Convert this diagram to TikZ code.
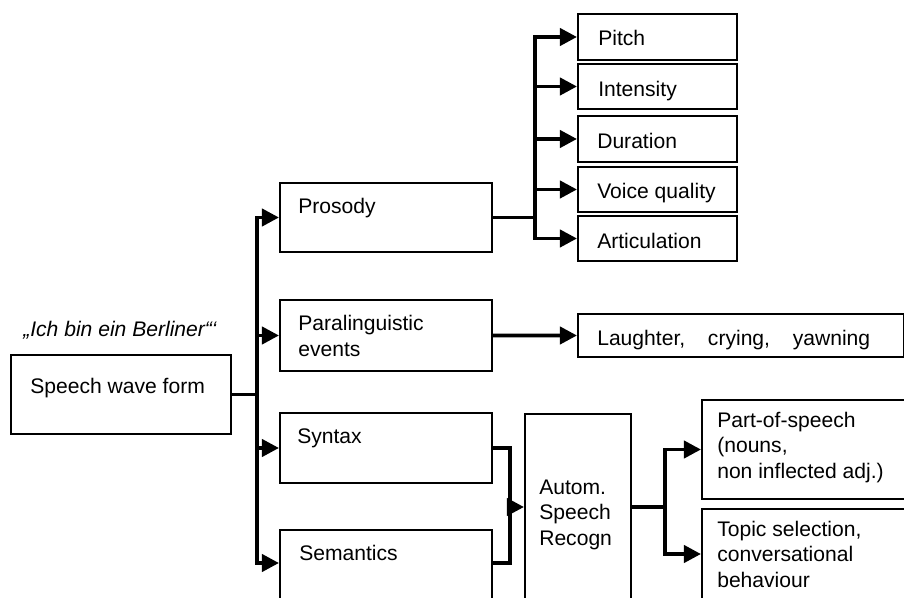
\documentclass[tikz,border=0pt]{standalone}
\usepackage{fontspec}
\setmainfont{Liberation Sans}
\usetikzlibrary{arrows.meta,calc}
\newcommand{\diagfont}{\fontsize{15pt}{17.8pt}\selectfont}
\begin{document}
\begin{tikzpicture}[x=0.025cm, y=-0.025cm,
        box/.style={draw, line width=1.4pt, anchor=north west, inner sep=0pt},
        txt/.style={anchor=base west, align=left, inner sep=0pt, font=\diagfont},
        link/.style={line width=2.8pt},
        arrow/.style={line width=2.8pt, -{Triangle[length=0.43cm, width=0.43cm]}}]
            \clip (0, 0) rectangle (904, 598);

            \node[box, minimum width=5.5cm, minimum height=1.975cm] (speech) at (10, 354) {};
            \node[txt] (speech-t) at (30, 393) {Speech wave form};
            \node[txt] (quote) at (23, 336) {\itshape „Ich bin ein Berliner“‘};

            \node[box, minimum width=5.3cm, minimum height=1.725cm] (prosody) at (279, 182) {};
            \node[box, minimum width=5.3cm, minimum height=1.775cm] (para) at (279, 299) {};
            \node[box, minimum width=5.3cm, minimum height=1.75cm] (syntax) at (279, 412) {};
            \node[box, minimum width=5.3cm, minimum height=3cm] (semantics) at (279, 529) {};
            \node[txt] (prosody-t) at (298, 213) {Prosody};
            \node[txt] (para-t) at (298, 356) {Paralinguistic\\events};
            \node[txt] (syntax-t) at (297, 443) {Syntax};
            \node[txt] (semantics-t) at (299, 560) {Semantics};

            \node[box, minimum width=3.975cm, minimum height=1.15cm] (pitch) at (577, 13) {};
            \node[box, minimum width=3.975cm, minimum height=1.125cm] (intensity) at (577, 63) {};
            \node[box, minimum width=3.975cm, minimum height=1.15cm] (duration) at (577, 115) {};
            \node[box, minimum width=3.975cm, minimum height=1.125cm] (voice) at (577, 166) {};
            \node[box, minimum width=3.975cm, minimum height=1.125cm] (artic) at (577, 215) {};
            \node[txt] (pitch-t) at (598, 46) {Pitch};
            \node[txt] (intensity-t) at (598, 96) {Intensity};
            \node[txt] (duration-t) at (597, 148) {Duration};
            \node[txt] (voice-t) at (597, 198) {Voice quality};
            \node[txt] (artic-t) at (597, 248) {Articulation};

            \node[box, minimum width=8.15cm, minimum height=1.075cm] (laughter) at (577, 313) {};
            \node[txt] (laughter-t) at (597, 345) {Laughter,\hspace{0.8em} crying,\hspace{0.8em} yawning};

            \node[box, minimum width=2.65cm, minimum height=5cm] (asr) at (524, 413) {};
            \node[txt] (asr-t) at (539, 545) {Autom.\\Speech\\Recogn};

            \node[box, minimum width=6.25cm, minimum height=2.475cm] (pos) at (701, 399) {};
            \node[box, minimum width=6.25cm, minimum height=3cm] (topic) at (701, 508) {};
            \node[txt] (pos-t) at (717, 478) {Part-of-speech\\(nouns,\\non inflected adj.)};
            \node[txt] (topic-t) at (717, 587) {Topic selection,\\conversational\\behaviour};

            \coordinate (semantics-in) at ($(semantics.north west)+(0, 34)$);
            \coordinate (semantics-out) at ($(semantics.north east)+(0, 34)$);
            \coordinate (asr-in) at ($(asr.north west)+(0, 94)$);
            \coordinate (asr-out) at ($(asr.north east)+(0, 94)$);
            \coordinate (topic-in) at ($(topic.north west)+(0, 46)$);
            \coordinate (join) at (510, 507);

            \draw[link] (speech.east) -- ++(25, 0) coordinate (fork1);
            \foreach \n in {prosody, para, syntax, semantics-in}
                \draw[arrow] (fork1) |- (\n.west);

            \draw[link] (prosody.east) -- ++(42, 0) coordinate (fork2);
            \foreach \n in {pitch, intensity, duration, voice, artic}
                \draw[arrow] (fork2) |- (\n.west);

            \draw[arrow] (para.east) -- (laughter.west);

            \draw[link] (syntax.east) -- ++(17, 0) -- (join);
            \draw[link] (semantics-out) -- ++(17, 0) -- (join);
            \draw[arrow] (join) -- (asr-in);

            \draw[link] (asr-out) -- ++(33, 0) coordinate (fork3);
            \draw[arrow] (fork3) |- (pos.west);
            \draw[arrow] (fork3) |- (topic-in);
        \end{tikzpicture}
\end{document}
